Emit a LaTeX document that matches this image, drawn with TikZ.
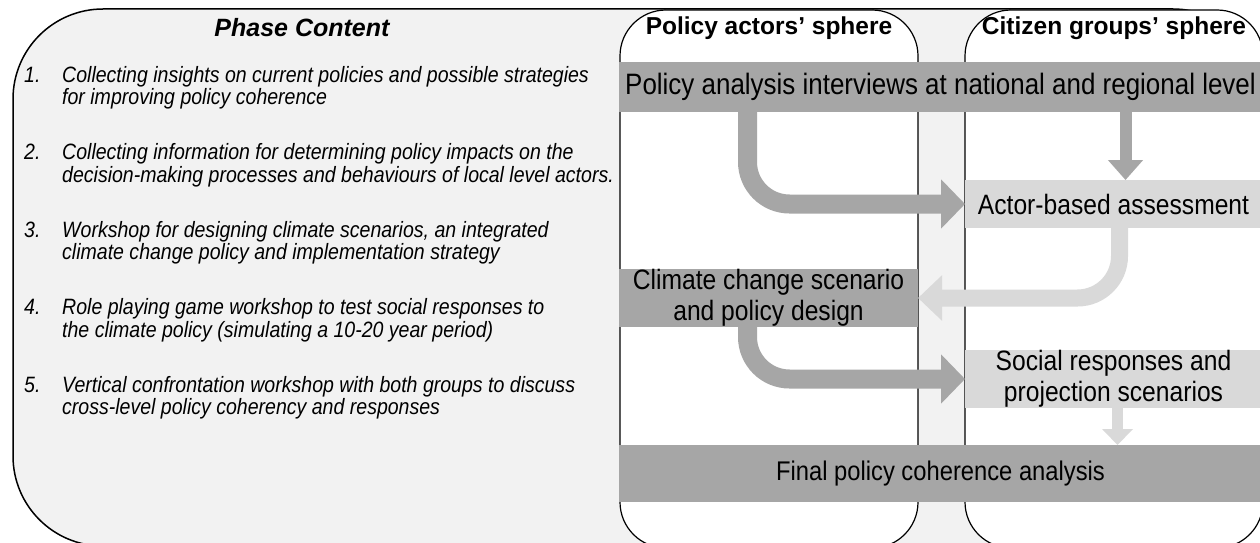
\documentclass[tikz,border=0pt]{standalone}
\usepackage{fontspec}
\setmainfont{Liberation Sans}
\newfontfamily\narrowsans[FakeStretch=0.88]{Liberation Sans}
\usetikzlibrary{arrows.meta}
\definecolor{bgfill}{HTML}{F2F2F2}
\definecolor{barDark}{HTML}{A6A6A6}
\definecolor{barLight}{HTML}{D9D9D9}
\begin{document}
\begin{tikzpicture}[x=1pt,y=-1pt,
  bar/.style={inner sep=0pt, outer sep=0pt, align=center, font=\narrowsans\fontsize{28}{31}\selectfont},
  darkbar/.style={bar, fill=barDark},
  lightbar/.style={bar, fill=barLight},
  header/.style={inner sep=0pt, font=\fontsize{24.5}{28}\selectfont\bfseries},
  itemtxt/.style={inner sep=0pt, anchor=base west, font=\narrowsans\fontsize{22.2}{25}\selectfont\itshape},
  sphere/.style={fill=white, draw=black, line width=1.2pt, rounded corners=46pt},
  bigdark/.style={draw=barDark, line width=19pt, rounded corners=42pt, -{Triangle[width=48pt,length=24pt]}},
  biglight/.style={draw=barLight, line width=17pt, rounded corners=42pt, -{Triangle[width=44pt,length=24pt]}},
  smalldark/.style={draw=barDark, line width=12pt, -{Triangle[width=34pt,length=20pt]}},
  smalllight/.style={draw=barLight, line width=11pt, -{Triangle[width=30pt,length=16pt]}}
]
\useasboundingbox (0,0) rectangle (1260,543);
\begin{scope}
\clip (0,0) rectangle (1260,543);
\draw[fill=bgfill, line width=1.5pt, rounded corners=90pt] (13,9) rectangle (1263,546);
\draw[sphere] (620,10) rectangle (918,548);
\draw[sphere] (965,10) rectangle (1263,548);
\end{scope}

% headers
\node[header, font=\fontsize{25}{28}\selectfont\bfseries\itshape] (hphase) at (302,28) {Phase Content};
\node[header] (hpol) at (769,28) {Policy actors’ sphere};
\node[header] (hcit) at (1114,28) {Citizen groups’ sphere};

% left list
\node[itemtxt] (n1) at (24,82) {1.};
\node[itemtxt] (t1a) at (62,82) {Collecting insights on current policies and possible strategies};
\node[itemtxt] (t1b) at (62,104.5) {for improving policy coherence};
\node[itemtxt] (n2) at (24,159.5) {2.};
\node[itemtxt] (t2a) at (62,159.5) {Collecting information for determining policy impacts on the};
\node[itemtxt] (t2b) at (62,182) {decision-making processes and behaviours of local level actors.};
\node[itemtxt] (n3) at (24,237) {3.};
\node[itemtxt] (t3a) at (62,237) {Workshop for designing climate scenarios, an integrated};
\node[itemtxt] (t3b) at (62,259.5) {climate change policy and implementation strategy};
\node[itemtxt] (n4) at (24,314.5) {4.};
\node[itemtxt] (t4a) at (62,314.5) {Role playing game workshop to test social responses to};
\node[itemtxt] (t4b) at (62,337) {the climate policy (simulating a 10-20 year period)};
\node[itemtxt] (n5) at (24,392) {5.};
\node[itemtxt] (t5a) at (62,392) {Vertical confrontation workshop with both groups to discuss};
\node[itemtxt] (t5b) at (62,414.5) {cross-level policy coherency and responses};

% bars
\node[darkbar, minimum width=643pt, minimum height=50pt, font=\narrowsans\fontsize{29.5}{32}\selectfont] (bar1) at (940.5,87) {Policy analysis interviews at national and regional level};
\node[lightbar, minimum width=297pt, minimum height=48pt] (bar2) at (1113.5,204) {Actor-based assessment};
\node[darkbar, minimum width=299pt, minimum height=56pt] (bar3) at (768.5,298) {Climate change scenario\\and policy design};
\node[lightbar, minimum width=297pt, minimum height=58pt] (bar4) at (1113.5,379) {Social responses and\\projection scenarios};
\node[darkbar, minimum width=643pt, minimum height=57pt, font=\narrowsans\fontsize{27}{30}\selectfont] (bar5) at (940.5,473.5) {Final policy coherence analysis};

% arrows
\draw[bigdark] ([xshift=-193pt]bar1.south) |- (bar2.west);
\draw[smalldark] ([xshift=185pt]bar1.south) -- ([xshift=185pt]bar1.south |- bar2.north);
\draw[biglight] ([xshift=6pt]bar2.south) |- (bar3.east);
\draw[bigdark] ([xshift=-21pt]bar3.south) |- (bar4.west);
\draw[smalllight] ([xshift=4pt]bar4.south) -- ([xshift=4pt]bar4.south |- bar5.north);
\end{tikzpicture}
\end{document}
